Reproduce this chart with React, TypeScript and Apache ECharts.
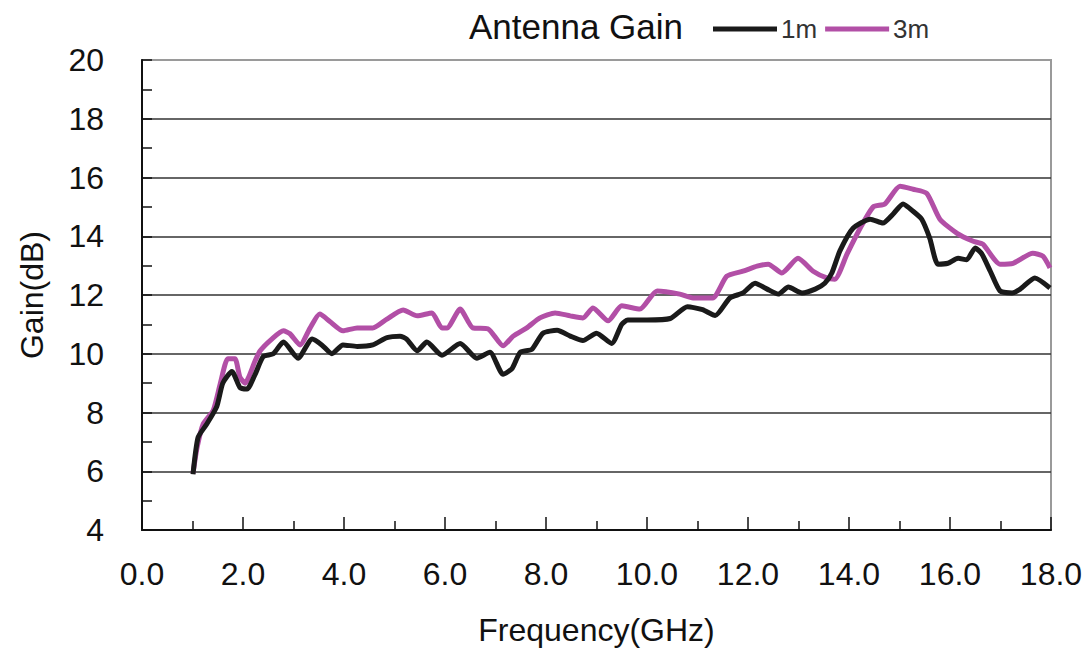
import React, { useEffect, useRef } from "react";
import * as echarts from "echarts";

const freq1m = [1.01, 1.11, 1.28, 1.48, 1.6, 1.78, 1.94, 2.08, 2.24, 2.4, 2.6, 2.8, 3.09, 3.37, 3.56, 3.76, 3.98, 4.26, 4.57, 4.85, 5.11, 5.24, 5.45, 5.64, 5.94, 6.3, 6.63, 6.89, 7.15, 7.33, 7.49, 7.72, 7.94, 8.22, 8.48, 8.73, 9.0, 9.3, 9.5, 9.62, 10.0, 10.46, 10.8, 11.1, 11.35, 11.64, 11.9, 12.14, 12.38, 12.6, 12.8, 13.07, 13.33, 13.52, 13.66, 13.82, 14.08, 14.42, 14.67, 14.87, 15.07, 15.27, 15.44, 15.6, 15.76, 15.96, 16.16, 16.33, 16.5, 16.63, 16.8, 16.99, 17.23, 17.39, 17.68, 17.98];
const gain1m = [5.9, 7.15, 7.6, 8.2, 9.0, 9.4, 8.85, 8.8, 9.3, 9.9, 10.0, 10.4, 9.85, 10.5, 10.3, 10.0, 10.3, 10.25, 10.3, 10.55, 10.6, 10.5, 10.1, 10.4, 9.95, 10.35, 9.85, 10.05, 9.3, 9.5, 10.05, 10.15, 10.7, 10.8, 10.6, 10.45, 10.7, 10.35, 11.0, 11.15, 11.15, 11.2, 11.6, 11.5, 11.3, 11.9, 12.07, 12.4, 12.2, 12.03, 12.27, 12.07, 12.2, 12.4, 12.75, 13.5, 14.27, 14.58, 14.45, 14.75, 15.1, 14.85, 14.58, 13.93, 13.05, 13.08, 13.25, 13.2, 13.6, 13.4, 12.8, 12.14, 12.07, 12.2, 12.58, 12.24];

const freq3m = [1.01, 1.09, 1.21, 1.41, 1.55, 1.7, 1.84, 1.94, 2.04, 2.24, 2.34, 2.57, 2.8, 2.93, 3.13, 3.33, 3.52, 3.72, 3.98, 4.26, 4.57, 4.85, 5.17, 5.45, 5.74, 5.94, 6.04, 6.3, 6.55, 6.85, 7.15, 7.35, 7.62, 7.88, 8.18, 8.48, 8.73, 8.93, 9.23, 9.5, 9.86, 10.2, 10.65, 10.91, 11.3, 11.58, 11.9, 12.18, 12.4, 12.67, 12.99, 13.29, 13.56, 13.72, 13.96, 14.22, 14.48, 14.71, 15.01, 15.27, 15.54, 15.8, 16.14, 16.46, 16.65, 16.99, 17.25, 17.64, 17.84, 17.98];
const gain3m = [5.93, 6.8, 7.6, 8.07, 8.98, 9.83, 9.83, 9.2, 9.0, 9.76, 10.1, 10.5, 10.78, 10.68, 10.3, 10.88, 11.35, 11.1, 10.78, 10.88, 10.88, 11.18, 11.49, 11.29, 11.39, 10.88, 10.88, 11.52, 10.88, 10.85, 10.27, 10.6, 10.88, 11.22, 11.39, 11.29, 11.22, 11.56, 11.12, 11.63, 11.52, 12.14, 12.03, 11.9, 11.9, 12.64, 12.81, 12.98, 13.05, 12.75, 13.25, 12.81, 12.58, 12.54, 13.39, 14.27, 15.0, 15.1, 15.7, 15.6, 15.46, 14.58, 14.1, 13.83, 13.73, 13.05, 13.08, 13.42, 13.32, 12.92];

const seriesNames = ["1m", "3m"];
const chartTitle = "Antenna Gain";
const xName = "Frequency(GHz)";
const yName = "Gain(dB)";

const FONT = "'Liberation Sans', Arial, sans-serif";

export default function App() {
  const ref = useRef<HTMLDivElement>(null);
  useEffect(() => {
    if (!ref.current) return;
    const chart = echarts.init(ref.current, null, { renderer: "svg" });
    const d1 = freq1m.map((f, i) => [f, gain1m[i]]);
    const d3 = freq3m.map((f, i) => [f, gain3m[i]]);
    chart.setOption({
      animation: false,
      backgroundColor: "#ffffff",
      title: {
        text: chartTitle,
        left: 464,
        top: 4,
        textStyle: { fontFamily: FONT, fontSize: 35, fontWeight: "normal", color: "#111" },
      },
      legend: {
        data: seriesNames,
        left: 708,
        top: 11,
        icon: "rect",
        itemWidth: 64,
        itemHeight: 5,
        itemGap: 8,
        textStyle: { fontFamily: FONT, fontSize: 26, color: "#333", padding: [0, 0, 0, -1] },
      },
      grid: {
        left: 142,
        right: 35,
        top: 60,
        bottom: 122,
        show: true,
        borderColor: "#9a9a9a",
        borderWidth: 2,
      },
      xAxis: {
        type: "value",
        min: 0,
        max: 18,
        interval: 2,
        name: xName,
        nameLocation: "middle",
        nameGap: 84,
        nameTextStyle: { fontFamily: FONT, fontSize: 32, color: "#111" },
        axisLine: { show: true, lineStyle: { color: "#111", width: 2 } },
        axisTick: { show: true, inside: true, length: 13, lineStyle: { color: "#111", width: 1.5 } },
        minorTick: { show: true, splitNumber: 2, length: 9, lineStyle: { color: "#111", width: 1.5 } },
        splitLine: { show: false },
        axisLabel: {
          fontFamily: FONT,
          fontSize: 32,
          color: "#111",
          margin: 28,
          formatter: (v: number) => v.toFixed(1),
        },
      },
      yAxis: {
        type: "value",
        min: 4,
        max: 20,
        interval: 2,
        name: yName,
        nameLocation: "middle",
        nameGap: 94,
        nameTextStyle: { fontFamily: FONT, fontSize: 32, color: "#111" },
        axisLine: { show: true, lineStyle: { color: "#111", width: 2 } },
        axisTick: { show: true, inside: true, length: 10, lineStyle: { color: "#111", width: 1.5 } },
        minorTick: { show: true, splitNumber: 2, length: 10, lineStyle: { color: "#111", width: 1.5 } },
        splitLine: {
          show: true,
          lineStyle: {
            color: ["#111", "#333", "#333", "#333", "#333", "#333", "#333", "#333", "#9a9a9a"],
            width: 1.5,
          },
        },
        axisLabel: { fontFamily: FONT, fontSize: 32, color: "#111", margin: 38 },
      },
      series: [
        {
          name: seriesNames[0],
          type: "line",
          data: d1,
          showSymbol: false,
          smooth: 0.2,
          color: "#1a1a1a",
          lineStyle: { color: "#1a1a1a", width: 5 },
          z: 3,
        },
        {
          name: seriesNames[1],
          type: "line",
          data: d3,
          showSymbol: false,
          smooth: 0.2,
          color: "#b24fa6",
          lineStyle: { color: "#b24fa6", width: 5 },
          z: 2,
        },
      ],
    });
    return () => chart.dispose();
  }, []);
  return (
    <div
      ref={ref}
      style={{ position: "fixed", left: 0, top: 0, width: 1086, height: 652, background: "#fff" }}
    />
  );
}
